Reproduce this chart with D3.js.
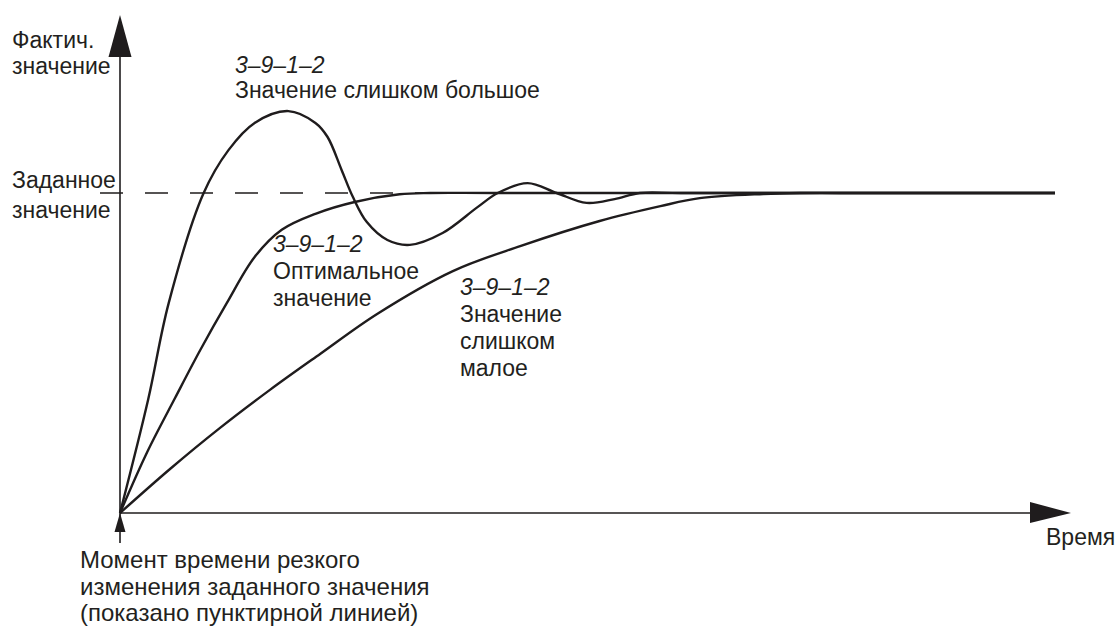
<!DOCTYPE html>
<html>
<head>
<meta charset="utf-8">
<script src="https://cdn.jsdelivr.net/npm/d3@7"></script>
<style>
  body { margin: 0; background: #fff; }
  text { font-family: "Liberation Sans", Arial, sans-serif; fill: #231f20; }
</style>
</head>
<body>
<svg id="chart" width="1120" height="627"></svg>
<script>
// time (arbitrary units) / value (setpoint = 1)
var tooBigT = [0, 3.0, 5.2, 8.9, 11.6, 14.4, 18.0, 20.9, 22.2, 23.7, 24.9, 26.4, 28.6, 31.0, 34.5, 38.2, 40.4, 43.6, 46.7, 49.9, 52.9, 55.6, 60, 100];
var tooBigV = [0, 0.353, 0.655, 0.997, 1.134, 1.219, 1.256, 1.219, 1.175, 1.072, 0.988, 0.909, 0.853, 0.838, 0.875, 0.955, 1.0, 1.031, 1.0, 0.969, 0.981, 1.0, 1.0, 1.0];

var optimalT = [0, 2.9, 5.9, 8.6, 11.4, 14.4, 17.3, 20.9, 25.1, 29.9, 33.2, 40, 100];
var optimalV = [0, 0.19, 0.36, 0.51, 0.655, 0.80, 0.885, 0.935, 0.972, 0.996, 1.0, 1.0, 1.0];

var tooSmallT = [0, 5.35, 10.7, 16.0, 21.4, 27.5, 35.6, 42.8, 51.3, 57.8, 62.0, 68.8, 72.7, 80, 100];
var tooSmallV = [0, 0.1375, 0.266, 0.384, 0.497, 0.622, 0.756, 0.834, 0.9125, 0.959, 0.984, 0.997, 1.0, 1.0, 1.0];

var setpoint = 1;

var svg = d3.select("#chart");
var x = d3.scaleLinear().domain([0, 100]).range([120, 1055]);
var y = d3.scaleLinear().domain([0, 1]).range([513, 193]);

var ink = "#1f1c1d";

// axes
svg.append("line").attr("x1", x(0)).attr("x2", 1032).attr("y1", y(0)).attr("y2", y(0))
  .attr("stroke", ink).attr("stroke-width", 1.6);
svg.append("path").attr("d", "M1030,502 L1071," + y(0) + " L1030,523 Z").attr("fill", ink);

svg.append("line").attr("x1", x(0)).attr("x2", x(0)).attr("y1", 543).attr("y2", 55)
  .attr("stroke", ink).attr("stroke-width", 1.6);
svg.append("path").attr("d", "M108.5,57 L120,15 L131.5,57 Z").attr("fill", ink);
// step moment marker
svg.append("path").attr("d", "M114.5,532 L120," + y(0) + " L125.5,532 Z").attr("fill", ink);

// setpoint (dashed)
svg.append("line").attr("x1", 100).attr("x2", x(100)).attr("y1", y(setpoint)).attr("y2", y(setpoint))
  .attr("stroke", ink).attr("stroke-width", 1.6).attr("stroke-dasharray", "23,22");

var line = d3.line().x(function(d) { return x(d[0]); }).y(function(d) { return y(d[1]); })
  .curve(d3.curveCatmullRom.alpha(0.5));

[[tooSmallT, tooSmallV], [optimalT, optimalV], [tooBigT, tooBigV]].forEach(function(s) {
  svg.append("path").datum(d3.zip(s[0], s[1]))
    .attr("d", line).attr("fill", "none").attr("stroke", ink).attr("stroke-width", 2.4);
});

// labels
function label(px, py, lines, italicFirst, lh, fs) {
  var t = svg.append("text").attr("x", px).attr("y", py).attr("font-size", fs || 23);
  lines.forEach(function(s, i) {
    t.append("tspan").attr("x", px).attr("dy", i ? (lh || 27) : 0)
      .attr("font-style", (italicFirst && i === 0) ? "italic" : "normal").text(s);
  });
}
label(12, 48, ["Фактич.", "значение"], false, 26);
label(12, 188, ["Заданное", "значение"], false, 30);
label(235, 73, ["3–9–1–2", "Значение слишком большое"], true, 25);
label(273, 252, ["3–9–1–2", "Оптимальное", "значение"], true);
label(460, 295, ["3–9–1–2", "Значение", "слишком", "малое"], true);
label(80, 568, ["Момент времени резкого", "изменения заданного значения", "(показано пунктирной линией)"], false, 26.5, 24);
label(1046, 545, ["Время"]);
</script>
</body>
</html>
